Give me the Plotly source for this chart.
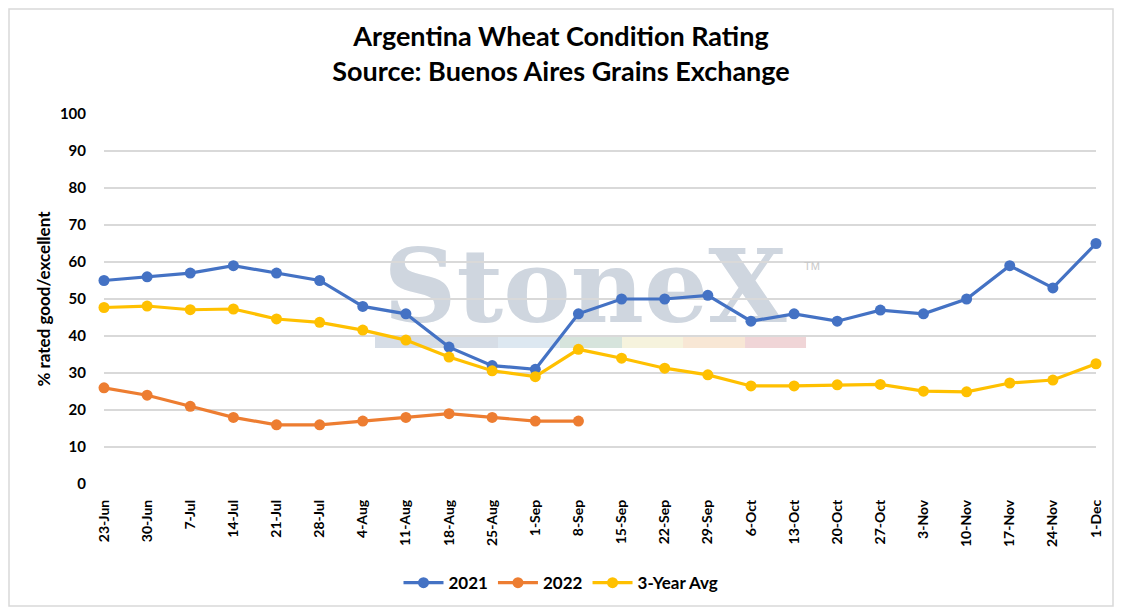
import plotly.graph_objects as go

weeks = ["23-Jun", "30-Jun", "7-Jul", "14-Jul", "21-Jul", "28-Jul", "4-Aug", "11-Aug",
         "18-Aug", "25-Aug", "1-Sep", "8-Sep", "15-Sep", "22-Sep", "29-Sep", "6-Oct",
         "13-Oct", "20-Oct", "27-Oct", "3-Nov", "10-Nov", "17-Nov", "24-Nov", "1-Dec"]

rating_2021 = [55, 56, 57, 59, 57, 55, 48, 46, 37, 32, 31, 46, 50, 50, 51, 44,
               46, 44, 47, 46, 50, 59, 53, 65]
rating_2022 = [26, 24, 21, 18, 16, 16, 17, 18, 19, 18, 17, 17]
avg_3yr = [47.7, 48.1, 47.1, 47.3, 44.6, 43.7, 41.6, 38.9, 34.3, 30.6, 29.0, 36.4,
           34.0, 31.3, 29.5, 26.5, 26.5, 26.8, 26.9, 25.1, 24.9, 27.3, 28.1, 32.5]

font = "Lato"

# page has an 8px body margin, so the figure is 16px smaller than the window
W, H = 1106, 599
L, T, PW, PH = 96, 106, 992, 370

fig = go.Figure()

series = [
    ("2021", weeks, rating_2021, "#4472C4"),
    ("2022", weeks[:len(rating_2022)], rating_2022, "#ED7D31"),
    ("3-Year Avg", weeks, avg_3yr, "#FFC000"),
]
for name, x, y, color in series:
    fig.add_trace(go.Scatter(
        x=x, y=y, name="<b>%s</b>" % name, mode="lines+markers",
        line=dict(color=color, width=3.2),
        marker=dict(color=color, size=11),
        cliponaxis=False,
    ))

# StoneX watermark, drawn behind gridlines
shapes = [dict(
    type="rect", xref="paper", yref="paper", x0=0.25, x1=0.72, y0=0.44, y1=0.66,
    line=dict(width=0), fillcolor="rgba(0,0,0,0)", layer="below",
    label=dict(text="<b>StoneX</b>", textposition="middle center",
               font=dict(family="DejaVu Serif", size=101, color="#cfd6df")),
)]
band_colors = ["#d6dde6", "#d6dde6", "#dde8f1", "#d6e4dc", "#f6f3dd", "#f8e7d5", "#f0d5d7"]
band_edges = [0.2732, 0.3357, 0.3972, 0.4597, 0.5222, 0.5837, 0.6462, 0.7077]
for i, c in enumerate(band_colors):
    shapes.append(dict(
        type="rect", xref="paper", yref="paper",
        x0=band_edges[i], x1=band_edges[i + 1], y0=0.3676, y1=0.397,
        line=dict(width=0), fillcolor=c, layer="below",
    ))
# chart border
shapes.append(dict(
    type="rect", xref="paper", yref="paper",
    x0=-(L - 1) / PW, x1=1 + (W - L - PW - 1) / PW,
    y0=-(H - T - PH - 1) / PH, y1=1 + (T - 1) / PH,
    line=dict(color="#d9d9d9", width=1.5), fillcolor="rgba(0,0,0,0)",
))

fig.update_layout(
    width=W, height=H,
    margin=dict(l=L, r=W - L - PW, t=T, b=H - T - PH, autoexpand=False),
    paper_bgcolor="white", plot_bgcolor="white",
    font=dict(family=font, color="black"),
    title=dict(
        text="<b>Argentina Wheat Condition Rating<br>Source: Buenos Aires Grains Exchange</b>",
        x=0.5, xanchor="center", y=0.937, yanchor="middle",
        font=dict(size=27, family=font, color="black"),
    ),
    shapes=shapes,
    annotations=[dict(
        text="TM", xref="paper", yref="paper", x=0.724, y=0.589, showarrow=False,
        font=dict(family="Liberation Sans", size=11, color="#c8c8c8"),
    )],
    legend=dict(
        orientation="h", x=(W / 2 - L) / PW, xanchor="center",
        y=-0.268, yanchor="middle",
        font=dict(size=17, family=font), itemwidth=40,
    ),
    showlegend=True,
)

fig.update_xaxes(
    type="category", range=[0, len(weeks) - 1], tickangle=-90,
    tickfont=dict(size=14, family=font), ticklabelstandoff=12,
    showgrid=False, showline=False, zeroline=False,
    tickprefix="<b>", ticksuffix="</b>",
)
fig.update_yaxes(
    range=[0, 100], dtick=10, showgrid=True, gridcolor="#d9d9d9", gridwidth=1.5,
    zeroline=False, showline=False, ticklabelstandoff=17,
    tickfont=dict(size=15, family=font), tickprefix="<b>", ticksuffix="</b>",
    title=dict(text="<b>% rated good/excellent</b>", font=dict(size=17, family=font), standoff=4),
)

fig.write_html("out.html")
